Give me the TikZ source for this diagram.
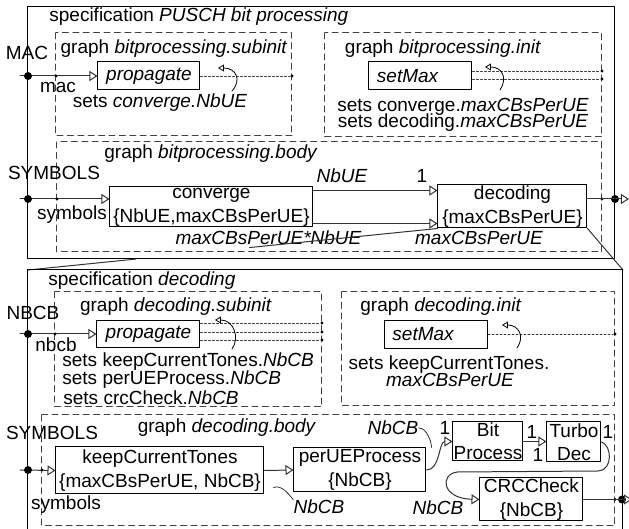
\documentclass[tikz,border=0pt]{standalone}
\usepackage{fontspec}
\setmainfont{Liberation Sans}
\usetikzlibrary{calc,positioning,arrows.meta}

\begin{document}
\begin{tikzpicture}[x=0.5pt,y=-0.5pt,font=\fontsize{9.5}{12}\selectfont, line cap=round, line join=round]

% ---------- styles ----------
\tikzset{
  spec/.style={draw, line width=0.5pt},
  graphbox/.style={draw=black!75, dash pattern=on 3pt off 2.2pt, line width=0.5pt},
  actor/.style={draw, line width=0.5pt, fill=white, align=center, inner sep=0pt},
  setmax/.style={actor, inner xsep=4pt, text width=43.5pt, align=left, minimum height=14pt},
  conn/.style={draw=black!80, line width=0.5pt, -{Triangle[open,length=4pt,width=5pt]}},
  wire/.style={draw=black!80, line width=0.5pt},
  cfg/.style={draw=black!80, line width=0.4pt, dash pattern=on 1pt off 1pt},
  loopback/.style={draw=black, line width=0.4pt, -{Triangle[open,length=3pt,width=3.5pt]}},
  ratepin/.style={draw=black!80, line width=0.4pt},
  iface/.style={circle, fill=black, inner sep=0pt, minimum size=4pt},
  junct/.style={circle, fill=black, inner sep=0pt, minimum size=1.6pt},
  lbl/.style={inner sep=0pt},
  rate/.style={inner sep=0pt, font=\fontsize{9.5}{12}\selectfont\itshape},
}

\useasboundingbox (0,0) rectangle (629,529);

% ---------- specification PUSCH bit processing ----------
\draw[spec] (28,7) rectangle (615,259);
\node[lbl, anchor=west] (specTop) at (49,17) {specification \textit{PUSCH bit processing}};

% subinit graph
\draw[graphbox] (56,33) rectangle (292,136);
\node[lbl] (subinitTop) at (174,49) {graph \textit{bitprocessing.subinit}};
\node[actor, minimum width=51pt, minimum height=14pt] (propTop) at (149,76) {\itshape propagate};
\node[lbl] (macName) at (27,53) {MAC};
\node[lbl] (macPort) at (58,87) {mac};
\coordinate (macStub) at (20,76);
\node[junct] (propTopCfg) at (292,76) {};
\draw[conn] (macStub) -- (propTop.west);
\draw[cfg] (propTop.east) -- (propTopCfg);
\node[iface] (macDot) at (28,76) {};
\node[junct] (macJ) at (56,76) {};
\draw[loopback] (232,91) .. controls (242,80) and (236,68) .. (218,68);
\node[lbl] (setsTop) at (160,103) {sets \textit{converge.NbUE}};

% init graph
\draw[graphbox] (325,33) rectangle (602,137);
\node[lbl] (initTop) at (443,49) {graph \textit{bitprocessing.init}};
\node[setmax] (maxTop) at (420.5,76) {\itshape setMax};
\node[junct] (maxTopA) at (602,71) {};
\node[junct] (maxTopB) at (602,79) {};
\draw[cfg] (maxTop.east |- maxTopA) -- (maxTopA);
\draw[cfg] (maxTop.east |- maxTopB) -- (maxTopB);
\draw[loopback] (500,90) .. controls (508,78) and (502,67) .. (485,67);
\node[lbl] (setsTopA) at (463,107) {sets converge.\textit{maxCBsPerUE}};
\node[lbl] (setsTopB) at (463,123) {sets decoding.\textit{maxCBsPerUE}};

% body graph
\draw[graphbox] (57,142) rectangle (602,252);
\node[lbl] (bodyTop) at (211,154) {graph \textit{bitprocessing.body}};
\node[lbl] (symName) at (54,173) {SYMBOLS};
\node[lbl] (symPort) at (72,215) {symbols};
\coordinate (symStub) at (20,199);
\node[actor, minimum width=101.5pt, minimum height=20pt] (conv) at (211.5,207) {converge\\\{NbUE,maxCBsPerUE\}};
\node[actor, minimum width=74.5pt, minimum height=21.5pt] (dec) at (512.5,206.5) {decoding\\\{maxCBsPerUE\}};
\draw[conn] (symStub) -- (conv.west |- symStub);
\node[iface] (symDot) at (28,199) {};
\node[junct] (symJ) at (57,199) {};

\coordinate (convNb) at ($(conv.north east)+(0,4)$);
\coordinate (convMax) at ($(conv.south east)+(0,-4)$);
\draw[conn] (convNb) -- (dec.west |- convNb);
\draw[conn] (convMax) -- (dec.west |- convMax);
\node[rate] (nbueProd) at (342,176) {NbUE};
\node[lbl] (nbueCons) at (422,176) {1};
\node[rate] (maxProd) at (268.5,238) {maxCBsPerUE*NbUE};
\node[rate] (maxCons) at (479,238) {maxCBsPerUE};

% output port
\node[junct] (decJ) at (602,199) {};
\node[iface] (outTop) at (615,199) {};
\coordinate (outTopTip) at (629,199);
\draw[wire] (dec.east |- outTop) -- (outTop.center);
\draw[conn] (outTop.center) -- (outTopTip);

% ---------- zoom onto decoding ----------
\coordinate (zoomNW) at (28,270);
\coordinate (zoomNE) at (623,270);
\draw[wire] (zoomNW) -- ($(zoomNW)!0.263!(dec.south west)$);
\draw[wire] ($(zoomNW)!0.541!(dec.south west)$) -- (dec.south west);
\draw[wire] (dec.south east) -- (zoomNE);

% ---------- specification decoding ----------
\draw[spec] (zoomNW) rectangle (623,531);
\node[lbl, anchor=west] (specDec) at (48,281) {specification \textit{decoding}};

% subinit graph
\draw[graphbox] (55,292) rectangle (322,407);
\node[lbl] (subinitDec) at (176,307) {graph \textit{decoding.subinit}};
\node[actor, minimum width=51.5pt, minimum height=13.5pt] (propDec) at (148.5,334.5) {\itshape propagate};
\node[lbl] (nbcbName) at (33,313) {NBCB};
\node[lbl] (nbcbPort) at (56,345) {nbcb};
\coordinate (nbcbStub) at (20,334);
\draw[conn] (nbcbStub) -- (propDec.west |- nbcbStub);
\node[iface] (nbcbDot) at (28,334) {};
\node[junct] (nbcbJ) at (55,334) {};
\foreach \y/\n in {323/A,332/B,340/C}{
  \node[junct] (propDec\n) at (322,\y) {};
  \draw[cfg] (propDec.east |- propDec\n) -- (propDec\n);
}
\draw[loopback] (232,349) .. controls (240,338) and (234,320) .. (215,320);
\node[lbl, anchor=west] (setsKeep) at (62,362) {sets keepCurrentTones.\textit{NbCB}};
\node[lbl, anchor=west] (setsPer) at (62,380) {sets perUEProcess.\textit{NbCB}};
\node[lbl, anchor=west] (setsCrc) at (63,398) {sets crcCheck.\textit{NbCB}};

% init graph
\draw[graphbox] (342,292) rectangle (615,406);
\node[lbl] (initDec) at (441,307) {graph \textit{decoding.init}};
\node[setmax] (maxDec) at (436,334.5) {\itshape setMax};
\node[junct] (maxDecCfg) at (615,334) {};
\draw[cfg] (maxDec.east |- maxDecCfg) -- (maxDecCfg);
\draw[loopback] (517,348) .. controls (525,337) and (519,325) .. (502,325);
\node[lbl] (setsMaxA) at (449,365) {sets keepCurrentTones.};
\node[rate] (setsMaxB) at (450,380) {maxCBsPerUE};

% body graph
\draw[graphbox] (42,415) rectangle (615,526);
\node[lbl] (bodyDec) at (227,428) {graph \textit{decoding.body}};
\node[lbl] (symDecName) at (52,433) {SYMBOLS};
\node[lbl] (symDecPort) at (66,505) {symbols};
\coordinate (symDecStub) at (20,470);

\node[actor, minimum width=104pt, minimum height=23.5pt] (keep) at (160,470.5) {keepCurrentTones\\\{maxCBsPerUE, NbCB\}};
\node[actor, minimum width=66pt, minimum height=22pt] (perUE) at (360,470) {perUEProcess\\\{NbCB\}};
\node[actor, minimum width=35pt, minimum height=19.5pt, font=\fontsize{9.5}{11.5}\selectfont] (bit) at (488,441.5) {Bit\\Process};
\node[actor, minimum width=27pt, minimum height=20pt, font=\fontsize{9.5}{11.5}\selectfont] (turbo) at (574,442) {Turbo\\Dec};
\node[actor, minimum width=51.5pt, minimum height=21.5pt] (crc) at (531.5,499.5) {CRCCheck\\\{NbCB\}};

\draw[conn] (symDecStub) -- (keep.west);
\node[iface] (symDecDot) at (28,470) {};
\node[junct] (symDecJ) at (42,470) {};

\draw[conn] (keep.east) -- (perUE.west);
\draw[conn] (perUE.east) .. controls +(14,0) and +(-14,0) .. (bit.west);
\draw[conn] (bit.east) -- (turbo.west |- bit.east);
\draw[conn] (turbo.east) .. controls +(11,4) and +(14,-1) .. ($(turbo.east)+(-3,29)$)
  -- ($(crc.west)+(-22,-27.5)$) .. controls +(-18,2) and +(-38,-1) .. (crc.west);

% rates
\node[rate] (nbcbTop) at (393,428) {NbCB};
\node[rate] (nbcbLow) at (319,507) {NbCB};
\node[rate] (nbcbCrc) at (438,508) {NbCB};
\node[lbl] (bitIn) at (445,428) {1};
\node[lbl] (bitOut) at (532,432) {1};
\node[lbl] (turboIn) at (538,455) {1};
\node[lbl] (turboOut) at (608,432) {1};
\draw[ratepin] ($(keep.east)+(9,17)$) .. controls +(8,-3) and +(-5,-6) .. (nbcbLow.north west);
\draw[ratepin] (nbcbTop.east) .. controls +(8,0) and +(0,-6) .. ($(bit.west)+(-21,6)$);

% output port
\node[junct] (crcJ) at (615,499.5) {};
\node[iface] (outDec) at (622,499.5) {};
\coordinate (outDecTip) at (632,499.5);
\draw[wire] (crc.east) -- (outDec.center);
\draw[conn] (outDec.center) -- (outDecTip);

\end{tikzpicture}
\end{document}
